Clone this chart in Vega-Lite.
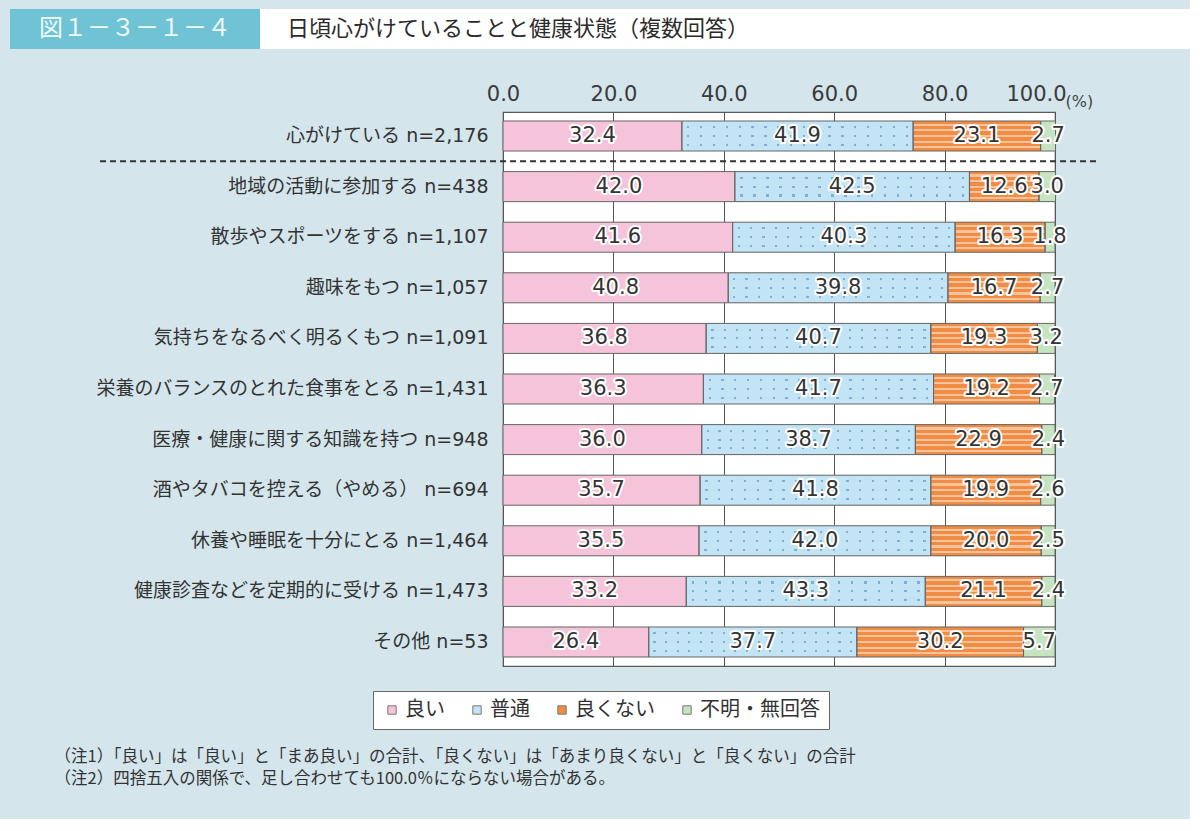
{
  "$schema": "https://vega.github.io/schema/vega-lite/v6.json",
  "background": "#d4e6ec",
  "padding": {"left": 10, "top": 9, "right": 0, "bottom": 31},
  "config": {
    "font": "DejaVu Sans, Noto Sans CJK JP",
    "view": {"stroke": null}
  },
  "datasets": {
    "health": [
      {"item": "心がけている n=2,176", "cat": "良い", "k": 1, "v": 32.4},
      {"item": "心がけている n=2,176", "cat": "普通", "k": 2, "v": 41.9},
      {"item": "心がけている n=2,176", "cat": "良くない", "k": 3, "v": 23.1},
      {"item": "心がけている n=2,176", "cat": "不明・無回答", "k": 4, "v": 2.7},
      {"item": "地域の活動に参加する n=438", "cat": "良い", "k": 1, "v": 42.0},
      {"item": "地域の活動に参加する n=438", "cat": "普通", "k": 2, "v": 42.5},
      {"item": "地域の活動に参加する n=438", "cat": "良くない", "k": 3, "v": 12.6},
      {"item": "地域の活動に参加する n=438", "cat": "不明・無回答", "k": 4, "v": 3.0},
      {"item": "散歩やスポーツをする n=1,107", "cat": "良い", "k": 1, "v": 41.6},
      {"item": "散歩やスポーツをする n=1,107", "cat": "普通", "k": 2, "v": 40.3},
      {"item": "散歩やスポーツをする n=1,107", "cat": "良くない", "k": 3, "v": 16.3},
      {"item": "散歩やスポーツをする n=1,107", "cat": "不明・無回答", "k": 4, "v": 1.8},
      {"item": "趣味をもつ n=1,057", "cat": "良い", "k": 1, "v": 40.8},
      {"item": "趣味をもつ n=1,057", "cat": "普通", "k": 2, "v": 39.8},
      {"item": "趣味をもつ n=1,057", "cat": "良くない", "k": 3, "v": 16.7},
      {"item": "趣味をもつ n=1,057", "cat": "不明・無回答", "k": 4, "v": 2.7},
      {"item": "気持ちをなるべく明るくもつ n=1,091", "cat": "良い", "k": 1, "v": 36.8},
      {"item": "気持ちをなるべく明るくもつ n=1,091", "cat": "普通", "k": 2, "v": 40.7},
      {"item": "気持ちをなるべく明るくもつ n=1,091", "cat": "良くない", "k": 3, "v": 19.3},
      {"item": "気持ちをなるべく明るくもつ n=1,091", "cat": "不明・無回答", "k": 4, "v": 3.2},
      {"item": "栄養のバランスのとれた食事をとる n=1,431", "cat": "良い", "k": 1, "v": 36.3},
      {"item": "栄養のバランスのとれた食事をとる n=1,431", "cat": "普通", "k": 2, "v": 41.7},
      {"item": "栄養のバランスのとれた食事をとる n=1,431", "cat": "良くない", "k": 3, "v": 19.2},
      {"item": "栄養のバランスのとれた食事をとる n=1,431", "cat": "不明・無回答", "k": 4, "v": 2.7},
      {"item": "医療・健康に関する知識を持つ n=948", "cat": "良い", "k": 1, "v": 36.0},
      {"item": "医療・健康に関する知識を持つ n=948", "cat": "普通", "k": 2, "v": 38.7},
      {"item": "医療・健康に関する知識を持つ n=948", "cat": "良くない", "k": 3, "v": 22.9},
      {"item": "医療・健康に関する知識を持つ n=948", "cat": "不明・無回答", "k": 4, "v": 2.4},
      {"item": "酒やタバコを控える（やめる） n=694", "cat": "良い", "k": 1, "v": 35.7},
      {"item": "酒やタバコを控える（やめる） n=694", "cat": "普通", "k": 2, "v": 41.8},
      {"item": "酒やタバコを控える（やめる） n=694", "cat": "良くない", "k": 3, "v": 19.9},
      {"item": "酒やタバコを控える（やめる） n=694", "cat": "不明・無回答", "k": 4, "v": 2.6},
      {"item": "休養や睡眠を十分にとる n=1,464", "cat": "良い", "k": 1, "v": 35.5},
      {"item": "休養や睡眠を十分にとる n=1,464", "cat": "普通", "k": 2, "v": 42.0},
      {"item": "休養や睡眠を十分にとる n=1,464", "cat": "良くない", "k": 3, "v": 20.0},
      {"item": "休養や睡眠を十分にとる n=1,464", "cat": "不明・無回答", "k": 4, "v": 2.5},
      {"item": "健康診査などを定期的に受ける n=1,473", "cat": "良い", "k": 1, "v": 33.2},
      {"item": "健康診査などを定期的に受ける n=1,473", "cat": "普通", "k": 2, "v": 43.3},
      {"item": "健康診査などを定期的に受ける n=1,473", "cat": "良くない", "k": 3, "v": 21.1},
      {"item": "健康診査などを定期的に受ける n=1,473", "cat": "不明・無回答", "k": 4, "v": 2.4},
      {"item": "その他 n=53", "cat": "良い", "k": 1, "v": 26.4},
      {"item": "その他 n=53", "cat": "普通", "k": 2, "v": 37.7},
      {"item": "その他 n=53", "cat": "良くない", "k": 3, "v": 30.2},
      {"item": "その他 n=53", "cat": "不明・無回答", "k": 4, "v": 5.7}
    ]
  },
  "vconcat": [
    {
      "hconcat": [
        {
          "width": 250,
          "height": 40,
          "view": {"fill": "#70c3d5", "stroke": null},
          "data": {"values": [{"label": "図１－３－１－４"}]},
          "mark": {"type": "text", "font": "Noto Sans CJK JP", "fontSize": 24, "color": "#eefafc"},
          "encoding": {"text": {"field": "label", "type": "nominal"}}
        },
        {
          "width": 930,
          "height": 40,
          "view": {"fill": "white", "stroke": null},
          "data": {"values": [{"label": "日頃心がけていることと健康状態（複数回答）"}]},
          "mark": {"type": "text", "font": "Noto Sans CJK JP", "fontSize": 22, "align": "left", "dx": 27, "color": "#2b2b2b"},
          "encoding": {
            "text": {"field": "label", "type": "nominal"},
            "x": {"datum": 0, "type": "quantitative", "scale": {"domain": [0, 1]}, "axis": null}
          }
        }
      ],
      "spacing": 0
    },
    {
      "hconcat": [
        {
          "width": 44,
          "height": 10,
          "view": {"stroke": null},
          "data": {"values": []},
          "mark": "text"
        },
        {
          "width": 552,
          "height": 554,
          "view": {"fill": "white", "stroke": "#5a5a5a", "strokeWidth": 1.2},
          "data": {"name": "health"},
          "title": {
            "text": [
              "（注1）「良い」は「良い」と「まあ良い」の合計、「良くない」は「あまり良くない」と「良くない」の合計",
              "（注2）四捨五入の関係で、足し合わせても100.0％にならない場合がある。"
            ],
            "orient": "bottom",
            "anchor": "start",
            "frame": "bounds",
            "baseline": "top",
            "font": "Noto Sans CJK JP",
            "fontSize": 16.5,
            "fontWeight": "normal",
            "color": "#333333",
            "lineHeight": 22,
            "offset": 19,
            "dx": -41
          },
          "encoding": {
            "y": {
              "field": "item",
              "type": "nominal",
              "sort": [
                "心がけている n=2,176",
                "地域の活動に参加する n=438",
                "散歩やスポーツをする n=1,107",
                "趣味をもつ n=1,057",
                "気持ちをなるべく明るくもつ n=1,091",
                "栄養のバランスのとれた食事をとる n=1,431",
                "医療・健康に関する知識を持つ n=948",
                "酒やタバコを控える（やめる） n=694",
                "休養や睡眠を十分にとる n=1,464",
                "健康診査などを定期的に受ける n=1,473",
                "その他 n=53"
              ],
              "scale": {"paddingInner": 0.407, "paddingOuter": 0.178},
              "axis": {
                "title": null,
                "domain": false,
                "ticks": false,
                "labelFontSize": 19,
                "labelColor": "#333333",
                "labelPadding": 15,
                "labelLimit": 600
              }
            }
          },
          "layer": [
            {
              "mark": {"type": "bar", "strokeWidth": 0},
              "encoding": {
                "x": {
                  "field": "v",
                  "type": "quantitative",
                  "stack": "zero",
                  "scale": {"domain": [0, 100], "nice": false},
                  "axis": {
                    "orient": "top",
                    "values": [0, 20, 40, 60, 80, 100],
                    "format": ".1f",
                    "domain": false,
                    "ticks": false,
                    "grid": true,
                    "gridColor": "#555555",
                    "gridWidth": 1,
                    "labelFlush": false,
                    "labelFontSize": 21,
                    "labelColor": "#3a3a3a",
                    "labelPadding": 8,
                    "labelOffset": {"condition": {"test": "datum.value == 100", "value": -19}, "value": 0},
                    "title": "(%)",
                    "titleFontSize": 16,
                    "titleFontWeight": "normal",
                    "titleColor": "#444444",
                    "titleX": 562,
                    "titleY": -3,
                    "titleAlign": "left",
                    "titleBaseline": "bottom"
                  }
                },
                "color": {
                  "field": "cat",
                  "type": "nominal",
                  "scale": {
                    "domain": ["良い", "普通", "良くない", "不明・無回答"],
                    "range": ["#f5c4da", "#c3e4f4", "#f08c43", "#c6e3c2"]
                  },
                  "legend": {
                    "orient": "none",
                    "legendX": -130,
                    "legendY": 579,
                    "direction": "horizontal",
                    "title": null,
                    "fillColor": "white",
                    "strokeColor": "#666666",
                    "padding": 9,
                    "symbolType": "square",
                    "symbolSize": 70,
                    "symbolStrokeColor": "#777777",
                    "symbolStrokeWidth": 1,
                    "labelFont": "Noto Sans CJK JP",
                    "labelFontSize": 20,
                    "labelColor": "#333333",
                    "labelOffset": 3,
                    "columnPadding": 22
                  }
                },
                "order": {"field": "k", "type": "quantitative"}
              }
            },
            {
              "mark": {
                "type": "bar",
                "strokeWidth": 0,
                "fill": {
                  "gradient": "linear", "x1": 0, "y1": 0, "x2": 1, "y2": 0,
                  "stops": [
                    {"offset": 0, "color": "#c3e4f4"},
                    {"offset": 0.0228, "color": "#c3e4f4"}, {"offset": 0.0228, "color": "#7fb0cf"}, {"offset": 0.0328, "color": "#7fb0cf"}, {"offset": 0.0328, "color": "#c3e4f4"},
                    {"offset": 0.0783, "color": "#c3e4f4"}, {"offset": 0.0783, "color": "#7fb0cf"}, {"offset": 0.0883, "color": "#7fb0cf"}, {"offset": 0.0883, "color": "#c3e4f4"},
                    {"offset": 0.1339, "color": "#c3e4f4"}, {"offset": 0.1339, "color": "#7fb0cf"}, {"offset": 0.1439, "color": "#7fb0cf"}, {"offset": 0.1439, "color": "#c3e4f4"},
                    {"offset": 0.1894, "color": "#c3e4f4"}, {"offset": 0.1894, "color": "#7fb0cf"}, {"offset": 0.1994, "color": "#7fb0cf"}, {"offset": 0.1994, "color": "#c3e4f4"},
                    {"offset": 0.245, "color": "#c3e4f4"}, {"offset": 0.245, "color": "#7fb0cf"}, {"offset": 0.255, "color": "#7fb0cf"}, {"offset": 0.255, "color": "#c3e4f4"},
                    {"offset": 0.3006, "color": "#c3e4f4"}, {"offset": 0.3006, "color": "#7fb0cf"}, {"offset": 0.3106, "color": "#7fb0cf"}, {"offset": 0.3106, "color": "#c3e4f4"},
                    {"offset": 0.3561, "color": "#c3e4f4"}, {"offset": 0.3561, "color": "#7fb0cf"}, {"offset": 0.3661, "color": "#7fb0cf"}, {"offset": 0.3661, "color": "#c3e4f4"},
                    {"offset": 0.4117, "color": "#c3e4f4"}, {"offset": 0.4117, "color": "#7fb0cf"}, {"offset": 0.4217, "color": "#7fb0cf"}, {"offset": 0.4217, "color": "#c3e4f4"},
                    {"offset": 0.4672, "color": "#c3e4f4"}, {"offset": 0.4672, "color": "#7fb0cf"}, {"offset": 0.4772, "color": "#7fb0cf"}, {"offset": 0.4772, "color": "#c3e4f4"},
                    {"offset": 0.5228, "color": "#c3e4f4"}, {"offset": 0.5228, "color": "#7fb0cf"}, {"offset": 0.5328, "color": "#7fb0cf"}, {"offset": 0.5328, "color": "#c3e4f4"},
                    {"offset": 0.5783, "color": "#c3e4f4"}, {"offset": 0.5783, "color": "#7fb0cf"}, {"offset": 0.5883, "color": "#7fb0cf"}, {"offset": 0.5883, "color": "#c3e4f4"},
                    {"offset": 0.6339, "color": "#c3e4f4"}, {"offset": 0.6339, "color": "#7fb0cf"}, {"offset": 0.6439, "color": "#7fb0cf"}, {"offset": 0.6439, "color": "#c3e4f4"},
                    {"offset": 0.6894, "color": "#c3e4f4"}, {"offset": 0.6894, "color": "#7fb0cf"}, {"offset": 0.6994, "color": "#7fb0cf"}, {"offset": 0.6994, "color": "#c3e4f4"},
                    {"offset": 0.745, "color": "#c3e4f4"}, {"offset": 0.745, "color": "#7fb0cf"}, {"offset": 0.755, "color": "#7fb0cf"}, {"offset": 0.755, "color": "#c3e4f4"},
                    {"offset": 0.8006, "color": "#c3e4f4"}, {"offset": 0.8006, "color": "#7fb0cf"}, {"offset": 0.8106, "color": "#7fb0cf"}, {"offset": 0.8106, "color": "#c3e4f4"},
                    {"offset": 0.8561, "color": "#c3e4f4"}, {"offset": 0.8561, "color": "#7fb0cf"}, {"offset": 0.8661, "color": "#7fb0cf"}, {"offset": 0.8661, "color": "#c3e4f4"},
                    {"offset": 0.9117, "color": "#c3e4f4"}, {"offset": 0.9117, "color": "#7fb0cf"}, {"offset": 0.9217, "color": "#7fb0cf"}, {"offset": 0.9217, "color": "#c3e4f4"},
                    {"offset": 0.9672, "color": "#c3e4f4"}, {"offset": 0.9672, "color": "#7fb0cf"}, {"offset": 0.9772, "color": "#7fb0cf"}, {"offset": 0.9772, "color": "#c3e4f4"},
                    {"offset": 1, "color": "#c3e4f4"}
                  ]
                }
              },
              "encoding": {
                "x": {"field": "v", "type": "quantitative", "stack": "zero"},
                "detail": {"field": "cat", "type": "nominal"},
                "order": {"field": "k", "type": "quantitative"},
                "fillOpacity": {"condition": {"test": "datum.cat === '普通'", "value": 1}, "value": 0}
              }
            },
            {
              "mark": {
                "type": "bar",
                "strokeWidth": 0,
                "fill": {
                  "gradient": "linear", "x1": 0, "y1": 0, "x2": 0, "y2": 1,
                  "stops": [
                    {"offset": 0, "color": "#c3e4f4"},
                    {"offset": 0.17, "color": "#c3e4f4"}, {"offset": 0.17, "color": "rgba(195,228,244,0)"}, {"offset": 0.237, "color": "rgba(195,228,244,0)"}, {"offset": 0.237, "color": "#c3e4f4"},
                    {"offset": 0.467, "color": "#c3e4f4"}, {"offset": 0.467, "color": "rgba(195,228,244,0)"}, {"offset": 0.533, "color": "rgba(195,228,244,0)"}, {"offset": 0.533, "color": "#c3e4f4"},
                    {"offset": 0.763, "color": "#c3e4f4"}, {"offset": 0.763, "color": "rgba(195,228,244,0)"}, {"offset": 0.83, "color": "rgba(195,228,244,0)"}, {"offset": 0.83, "color": "#c3e4f4"},
                    {"offset": 1, "color": "#c3e4f4"}
                  ]
                }
              },
              "encoding": {
                "x": {"field": "v", "type": "quantitative", "stack": "zero"},
                "detail": {"field": "cat", "type": "nominal"},
                "order": {"field": "k", "type": "quantitative"},
                "fillOpacity": {"condition": {"test": "datum.cat === '普通'", "value": 1}, "value": 0}
              }
            },
            {
              "mark": {
                "type": "bar",
                "strokeWidth": 0,
                "fill": {
                  "gradient": "linear", "x1": 0, "y1": 0, "x2": 0, "y2": 1,
                  "stops": [
                    {"offset": 0, "color": "#f08c43"},
                    {"offset": 0.095, "color": "#f08c43"}, {"offset": 0.095, "color": "#f8c29a"}, {"offset": 0.165, "color": "#f8c29a"}, {"offset": 0.165, "color": "#f08c43"},
                    {"offset": 0.275, "color": "#f08c43"}, {"offset": 0.275, "color": "#f8c29a"}, {"offset": 0.345, "color": "#f8c29a"}, {"offset": 0.345, "color": "#f08c43"},
                    {"offset": 0.465, "color": "#f08c43"}, {"offset": 0.465, "color": "#f8c29a"}, {"offset": 0.535, "color": "#f8c29a"}, {"offset": 0.535, "color": "#f08c43"},
                    {"offset": 0.655, "color": "#f08c43"}, {"offset": 0.655, "color": "#f8c29a"}, {"offset": 0.725, "color": "#f8c29a"}, {"offset": 0.725, "color": "#f08c43"},
                    {"offset": 0.835, "color": "#f08c43"}, {"offset": 0.835, "color": "#f8c29a"}, {"offset": 0.905, "color": "#f8c29a"}, {"offset": 0.905, "color": "#f08c43"},
                    {"offset": 1, "color": "#f08c43"}
                  ]
                }
              },
              "encoding": {
                "x": {"field": "v", "type": "quantitative", "stack": "zero"},
                "detail": {"field": "cat", "type": "nominal"},
                "order": {"field": "k", "type": "quantitative"},
                "fillOpacity": {"condition": {"test": "datum.cat === '良くない'", "value": 1}, "value": 0}
              }
            },
            {
              "mark": {"type": "bar", "fillOpacity": 0, "stroke": "#666666", "strokeWidth": 1},
              "encoding": {
                "x": {"field": "v", "type": "quantitative", "stack": "zero"},
                "detail": {"field": "cat", "type": "nominal"},
                "order": {"field": "k", "type": "quantitative"}
              }
            },
            {
              "data": {"values": [{}]},
              "mark": {"type": "rule", "color": "#333333", "strokeWidth": 2, "strokeDash": [6, 4]},
              "encoding": {
                "x": {"datum": -73, "type": "quantitative"},
                "x2": {"datum": 107.6},
                "y": {"datum": "心がけている n=2,176", "type": "nominal", "bandPosition": 1.34}
              }
            },
            {
              "mark": {"type": "text", "fontSize": 21, "fill": "white", "stroke": "white", "strokeWidth": 4, "strokeJoin": "round"},
              "encoding": {
                "x": {"field": "v", "type": "quantitative", "stack": "zero", "bandPosition": 0.5},
                "detail": {"field": "cat", "type": "nominal"},
                "order": {"field": "k", "type": "quantitative"},
                "text": {"field": "v", "type": "quantitative", "format": ".1f"}
              }
            },
            {
              "mark": {"type": "text", "fontSize": 21, "fill": "#333333"},
              "encoding": {
                "x": {"field": "v", "type": "quantitative", "stack": "zero", "bandPosition": 0.5},
                "detail": {"field": "cat", "type": "nominal"},
                "order": {"field": "k", "type": "quantitative"},
                "text": {"field": "v", "type": "quantitative", "format": ".1f"}
              }
            }
          ]
        }
      ],
      "spacing": 0,
      "resolve": {"legend": {"color": "independent"}}
    }
  ],
  "spacing": 33,
  "resolve": {"legend": {"color": "independent"}}
}
